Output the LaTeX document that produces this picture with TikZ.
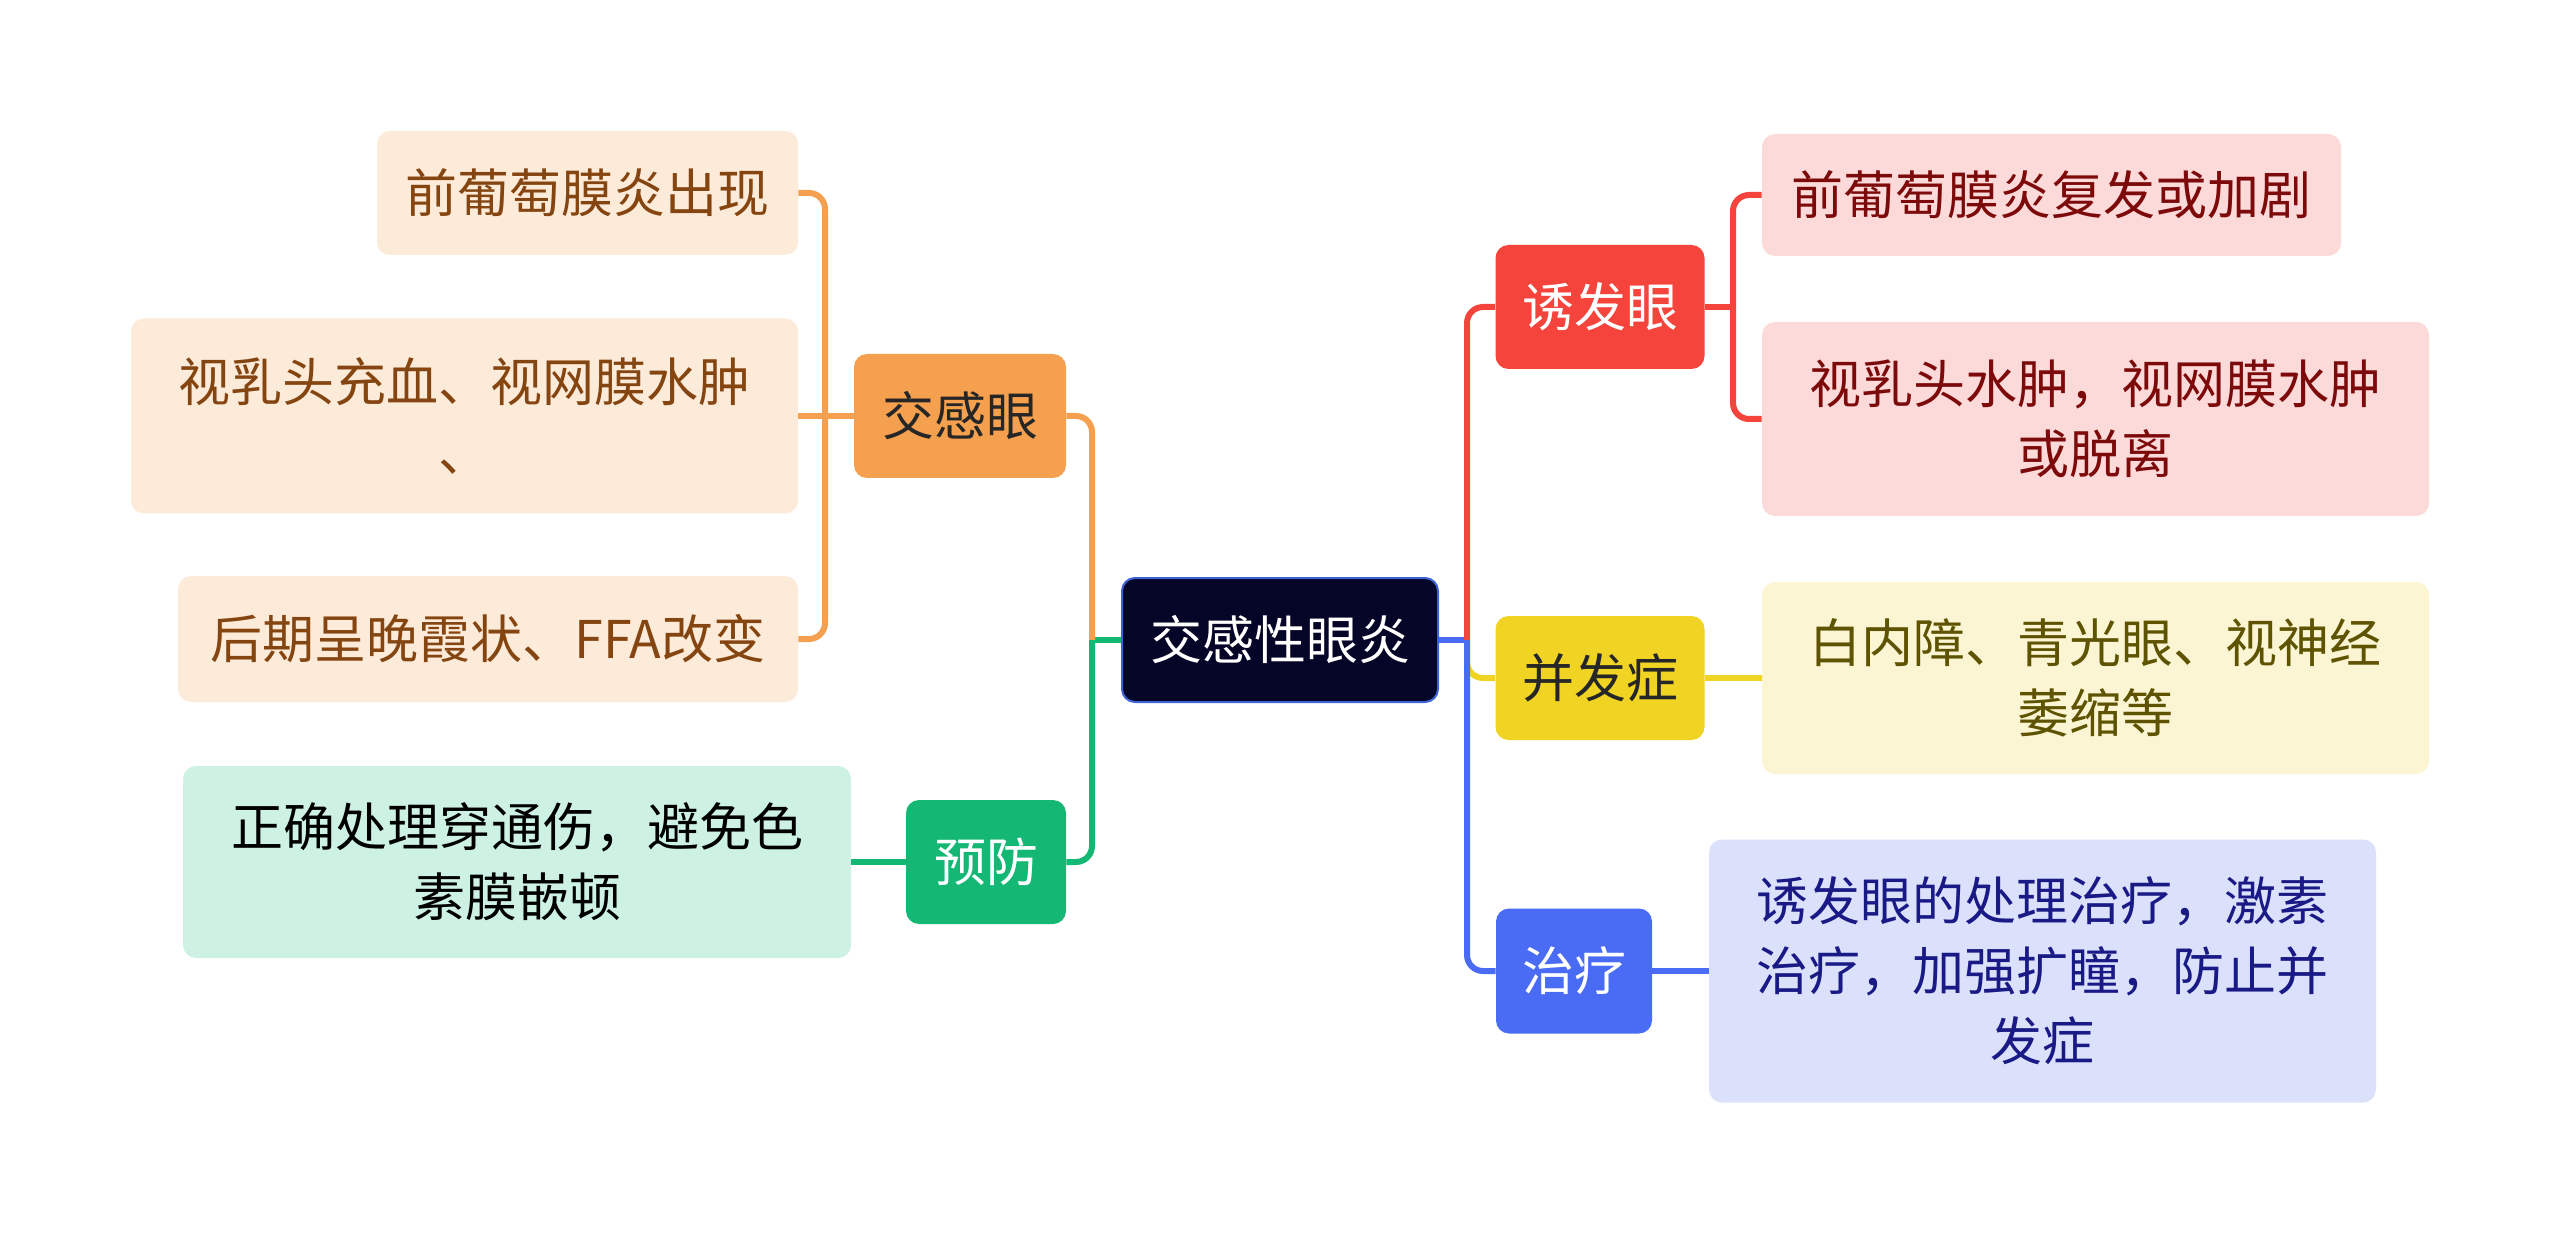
\documentclass[tikz,border=0pt]{standalone}
\usepackage{fontspec}
\setmainfont{Noto Sans CJK SC}
\definecolor{cOr}{HTML}{F4A04F}
\definecolor{cOrL}{HTML}{FDEBDA}
\definecolor{cOrT}{HTML}{854510}
\definecolor{cGr}{HTML}{14B874}
\definecolor{cGrL}{HTML}{CDF1E2}
\definecolor{cRe}{HTML}{F5443B}
\definecolor{cReL}{HTML}{FDDADA}
\definecolor{cReT}{HTML}{7D0A0A}
\definecolor{cYe}{HTML}{F0D323}
\definecolor{cYeL}{HTML}{FCF5D3}
\definecolor{cYeT}{HTML}{5E5300}
\definecolor{cBl}{HTML}{4A6CF5}
\definecolor{cBlL}{HTML}{DBE1FB}
\definecolor{cBlT}{HTML}{1A1A86}
\definecolor{cCe}{HTML}{050527}
\definecolor{cCeB}{HTML}{3B63D6}
\begin{document}
\begin{tikzpicture}[x=0.5pt,y=-0.5pt,
  box/.style={rounded corners=6.5pt, inner sep=0pt, align=center,
    font=\fontsize{26pt}{35pt}\selectfont},
  conn/.style={line width=3pt},
  rconn/.style={line width=3pt, rounded corners=8pt}]
\useasboundingbox (0,0) rectangle (2560,1235);
\fill[white] (0,0) rectangle (2560,1235);

% central
\node[box, fill=cCe, draw=cCeB, line width=1pt, text=white,
  minimum width=158pt, minimum height=62pt] (c) at (1280,640) {交感性眼炎};

% main branches
\node[box, fill=cOr, text=black!85, minimum width=106pt, minimum height=62pt] (jg) at (960,416) {交感眼};
\node[box, fill=cGr, text=white, minimum width=80pt, minimum height=62pt] (yf) at (986,862) {预防};
\node[box, fill=cRe, text=white, minimum width=104.5pt, minimum height=62pt] (ry) at (1600,307) {诱发眼};
\node[box, fill=cYe, text=black!85, minimum width=104.5pt, minimum height=62pt] (bf) at (1600,678) {并发症};
\node[box, fill=cBl, text=white, minimum width=78pt, minimum height=62.5pt] (zl) at (1574,971) {治疗};

% left leaves
\node[box, fill=cOrL, text=cOrT, minimum width=210.5pt, minimum height=62pt] (l1) at (587.5,193) {前葡萄膜炎出现};
\node[box, fill=cOrL, text=cOrT, minimum width=333.5pt, minimum height=97.5pt] (l2) at (464.5,416) {视乳头充血、视网膜水肿\\、};
\node[box, fill=cOrL, text=cOrT, minimum width=310pt, minimum height=63pt] (l3) at (488,639) {后期呈晚霞状、FFA改变};
\node[box, fill=cGrL, text=black, minimum width=334pt, minimum height=96pt] (l4) at (517,862) {正确处理穿通伤，避免色\\素膜嵌顿};

% right leaves
\node[box, fill=cReL, text=cReT, minimum width=289.5pt, minimum height=61pt] (r1) at (2051.5,195) {前葡萄膜炎复发或加剧};
\node[box, fill=cReL, text=cReT, minimum width=333.5pt, minimum height=97pt] (r2) at (2095.5,419) {视乳头水肿，视网膜水肿\\或脱离};
\node[box, fill=cYeL, text=cYeT, minimum width=333.5pt, minimum height=96pt] (r3) at (2095.5,678) {白内障、青光眼、视神经\\萎缩等};
\node[box, fill=cBlL, text=cBlT, minimum width=333.5pt, minimum height=131.5pt] (r4) at (2042.5,971) {诱发眼的处理治疗，激素\\治疗，加强扩瞳，防止并\\发症};

% trunk coordinates
\coordinate (lt) at (1092,640);
\coordinate (rt) at (1467,640);
\coordinate (lb) at (825,416);
\coordinate (rb) at (1733,307);

% left connectors
\draw[conn, cGr] (c.west) -- (lt);
\draw[rconn, cOr] (lt) |- (jg.east);
\draw[rconn, cGr] (lt) |- (yf.east);
\draw[conn, cOr] (jg.west) -- (l2.east);
\draw[rconn, cOr] (lb) |- (l1.east);
\draw[rconn, cOr] (lb) |- (l3.east);
\draw[conn, cGr] (yf.west) -- (l4.east);

% right connectors
\draw[conn, cBl] (c.east) -- (rt);
\draw[rconn, cRe] (rt) |- (ry.west);
\draw[rconn, cYe] (rt) |- (bf.west);
\draw[rconn, cBl] (rt) |- (zl.west);
\draw[conn, cRe] (ry.east) -- (rb);
\draw[rconn, cRe] (rb) |- (r1.west);
\draw[rconn, cRe] (rb) |- (r2.west);
\draw[conn, cYe] (bf.east) -- (r3.west);
\draw[conn, cBl] (zl.east) -- (r4.west);
\end{tikzpicture}
\end{document}
